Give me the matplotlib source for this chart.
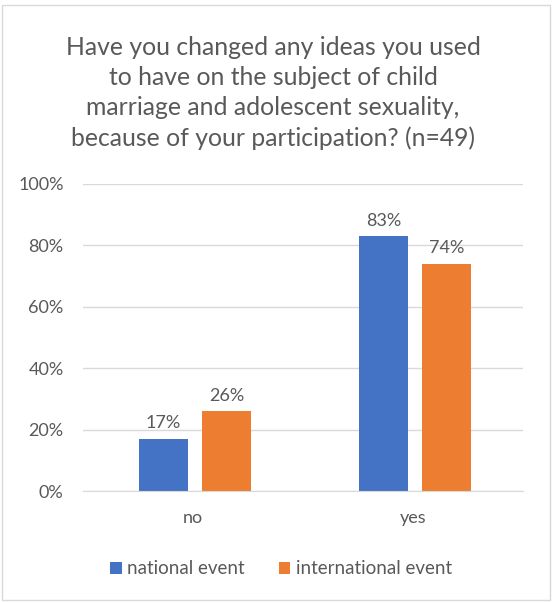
import matplotlib
matplotlib.use("Agg")
import matplotlib.pyplot as plt
from matplotlib.patches import Rectangle
import numpy as np

categories = ["no", "yes"]
series_names = ["national event", "international event"]
national = [17, 83]
international = [26, 74]
yticks = [0, 20, 40, 60, 80, 100]
title = ("Have you changed any ideas you used\nto have on the subject of child\n"
         "marriage and adolescent sexuality,\nbecause of your participation? (n=49)")

blue = "#4472C4"
orange = "#ED7D31"
txt = "#595959"

plt.rcParams['font.family'] = ['Lato', 'DejaVu Sans']

fig = plt.figure(figsize=(5.53, 6.03), dpi=100)
fig.patches.append(Rectangle((2/553, 3/603), 548/553, 595/603, transform=fig.transFigure,
                             fill=False, edgecolor="#d9d9d9", linewidth=1))
ax = fig.add_axes([83/553, 1-491/603, 440/553, 307/603])

x = np.arange(len(categories))
w = 0.223
gap = 0.064
b1 = ax.bar(x - (w+gap)/2 + 0.01, national, w, color=blue, label=series_names[0])
b2 = ax.bar(x + (w+gap)/2 + 0.01, international, w, color=orange, label=series_names[1])
for bars, vals in ((b1, national), (b2, international)):
    for r, v in zip(bars, vals):
        ax.text(r.get_x()+r.get_width()/2, v + 2.5, f"{v}%", ha="center", va="bottom",
                fontsize=13, color=txt)

ax.set_xlim(-0.5, 1.5)
ax.set_ylim(0, 100)
ax.set_yticks(yticks)
ax.set_yticklabels([f"{t}%" for t in yticks])
ax.set_xticks(x)
ax.set_xticklabels(categories)
ax.tick_params(axis="both", length=0, labelsize=13, colors=txt)
ax.tick_params(axis="y", pad=14)
ax.tick_params(axis="x", pad=14)
ax.yaxis.grid(True, color="#d9d9d9", linewidth=1)
ax.set_axisbelow(True)
for s in ["top", "right", "left"]:
    ax.spines[s].set_visible(False)
ax.spines["bottom"].set_color("#d9d9d9")

fig.text(273/553, 1-93/603, title, ha="center", va="center", fontsize=17.8,
         color=txt, linespacing=1.38)

fig.legend(handles=[b1, b2], loc="center", bbox_to_anchor=(281/553, 1-569/603),
           ncol=2, frameon=False, fontsize=13.5, labelcolor=txt, handlelength=0.6,
           handleheight=0.6, columnspacing=1.8, handletextpad=0.3)

fig.savefig("out.png", dpi=100)
